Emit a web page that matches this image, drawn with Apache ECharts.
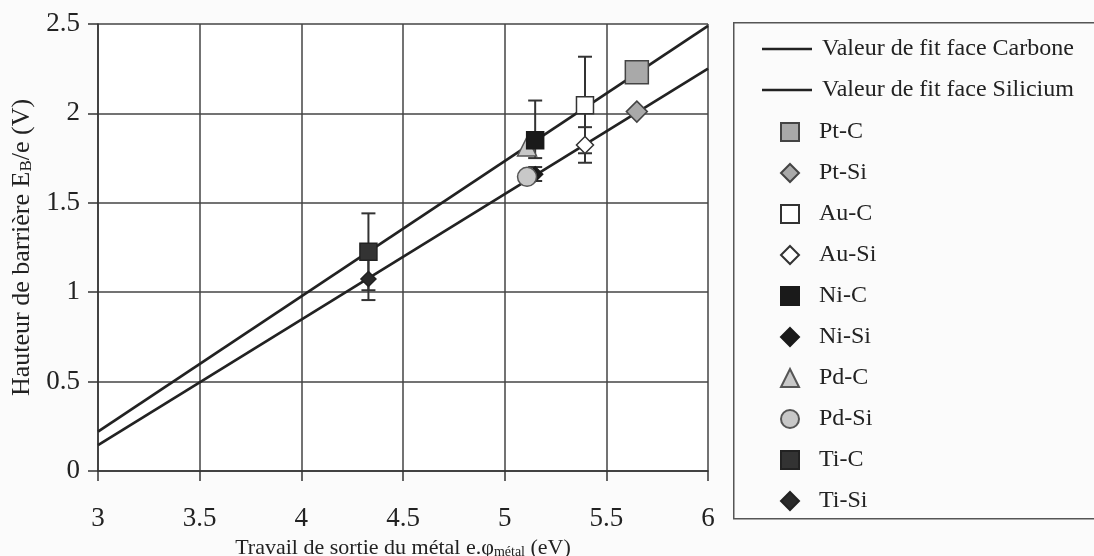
<!DOCTYPE html>
<html>
<head>
<meta charset="utf-8">
<script src="https://cdn.jsdelivr.net/npm/echarts@6/dist/echarts.min.js"></script>
<style>
html,body{margin:0;padding:0;background:#fbfbfb;}
#chart{width:1094px;height:556px;}
</style>
</head>
<body>
<div id="chart"></div>
<script>
// ---- data ----
const xTicks = [3, 3.5, 4, 4.5, 5, 5.5, 6];
const yTicks = [0, 0.5, 1, 1.5, 2, 2.5];
const fitCarbone = [[3, 0.22], [6, 2.49]];
const fitSilicium = [[3, 0.145], [6, 2.25]];
const ptC = [[5.65, 2.23]];
const ptSi = [[5.65, 2.01]];
const auC = [[5.395, 2.045]];
const auSi = [[5.395, 1.823]];
const niC = [[5.15, 1.85]];
const niSi = [[5.15, 1.66]];
const pdC = [[5.11, 1.815]];
const pdSi = [[5.11, 1.645]];
const tiC = [[4.33, 1.226]];
const tiSi = [[4.33, 1.074]];
// error bars: [x, low, high]
const errorBars = [
  [5.395, 1.777, 2.317],
  [5.395, 1.724, 1.923],
  [5.15, 1.75, 2.072],
  [5.15, 1.622, 1.70],
  [4.33, 1.011, 1.441],
  [4.33, 0.956, 1.19]
];

const serif = 'Liberation Serif';
const chart = echarts.init(document.getElementById('chart'));

function sc(name, data, symbol, size, fill, border, z) {
  return {
    name: name, type: 'scatter', data: data, symbol: symbol, symbolSize: size,
    itemStyle: {color: fill, borderColor: border, borderWidth: 1.5, opacity: 1},
    z: z
  };
}

const option = {
  backgroundColor: '#fbfbfb',
  animation: false,
  grid: {left: 98, top: 24, width: 610, height: 447, show: true, backgroundColor: '#ffffff',
    borderWidth: 0, containLabel: false, outerBoundsMode: 'none'},
  xAxis: {
    type: 'value', min: 3, max: 6, interval: 0.5,
    name: '{n|Travail de sortie du métal e.φ}{s|métal}{n| (eV)}',
    nameLocation: 'middle', nameGap: 61,
    nameTextStyle: {rich: {
      n: {fontFamily: serif, fontSize: 22, color: '#222'},
      s: {fontFamily: serif, fontSize: 14, color: '#222', verticalAlign: 'bottom', padding: [8, 0, 0, 0]}
    }},
    axisLine: {onZero: false, lineStyle: {color: '#333', width: 1.5}},
    axisTick: {show: true, inside: false, length: 10, lineStyle: {color: '#333', width: 1.5}},
    axisLabel: {fontFamily: serif, fontSize: 27, color: '#222', margin: 34},
    splitLine: {show: true, lineStyle: {color: '#444', width: 1.5}}
  },
  yAxis: {
    type: 'value', min: 0, max: 2.5, interval: 0.5,
    name: '{n|Hauteur de barrière E}{s|B}{n|/e (V)}',
    nameLocation: 'middle', nameGap: 61, nameRotate: 90,
    nameTextStyle: {rich: {
      n: {fontFamily: serif, fontSize: 26, color: '#222'},
      s: {fontFamily: serif, fontSize: 17, color: '#222', verticalAlign: 'bottom', padding: [9, 0, 0, 0]}
    }},
    axisLine: {onZero: false, lineStyle: {color: '#333', width: 1.5}},
    axisTick: {show: true, inside: false, length: 10, lineStyle: {color: '#333', width: 1.5}},
    axisLabel: {fontFamily: serif, fontSize: 27, color: '#222', margin: 18},
    splitLine: {show: true, lineStyle: {color: '#444', width: 1.5}}
  },
  legend: [
    {
      orient: 'vertical', left: 762, top: 37, padding: 0, itemWidth: 50, itemHeight: 2.5, itemGap: 17,
      icon: 'rect', height: 90,
      textStyle: {fontFamily: serif, fontSize: 24, color: '#222', padding: [0, 0, 0, 5]},
      data: [{name: 'Valeur de fit face Carbone', itemStyle: {color: '#222'}},
             {name: 'Valeur de fit face Silicium', itemStyle: {color: '#222'}}]
    },
    {
      orient: 'vertical', left: 780, top: 120, padding: 0, height: 420, itemWidth: 18, itemHeight: 18, itemGap: 17,
      textStyle: {fontFamily: serif, fontSize: 24, color: '#222', padding: [0, 0, 0, 15]},
      data: ['Pt-C', 'Pt-Si', 'Au-C', 'Au-Si', 'Ni-C', 'Ni-Si', 'Pd-C', 'Pd-Si', 'Ti-C', 'Ti-Si']
    }
  ],
  graphic: [{
    type: 'rect', left: 733, top: 22, shape: {width: 380, height: 496},
    style: {fill: 'rgba(0,0,0,0)', stroke: '#555', lineWidth: 1.5}, z: -1
  }],
  series: [
    {name: 'Valeur de fit face Carbone', type: 'line', data: fitCarbone, symbol: 'none',
      lineStyle: {color: '#222', width: 2.7}, itemStyle: {color: '#222'}, z: 3},
    {name: 'Valeur de fit face Silicium', type: 'line', data: fitSilicium, symbol: 'none',
      lineStyle: {color: '#222', width: 2.7}, itemStyle: {color: '#222'}, z: 3},
    {
      type: 'custom', z: 4, silent: true, data: errorBars,
      renderItem: function (params, api) {
        const x = api.value(0);
        const lo = api.coord([x, api.value(1)]);
        const hi = api.coord([x, api.value(2)]);
        const w = 7;
        const st = {stroke: '#333', lineWidth: 2};
        return {type: 'group', children: [
          {type: 'line', shape: {x1: lo[0], y1: lo[1], x2: hi[0], y2: hi[1]}, style: st},
          {type: 'line', shape: {x1: lo[0] - w, y1: lo[1], x2: lo[0] + w, y2: lo[1]}, style: st},
          {type: 'line', shape: {x1: hi[0] - w, y1: hi[1], x2: hi[0] + w, y2: hi[1]}, style: st}
        ]};
      }
    },
    sc('Pt-C', ptC, 'rect', 23, '#a9a9a9', '#444', 5),
    sc('Pt-Si', ptSi, 'diamond', 21, '#a9a9a9', '#444', 5),
    sc('Au-C', auC, 'rect', 17, '#ffffff', '#333', 5),
    sc('Au-Si', auSi, 'diamond', 17, '#ffffff', '#333', 5),
    sc('Ni-Si', niSi, 'diamond', 15, '#1a1a1a', '#1a1a1a', 5),
    sc('Pd-C', pdC, 'triangle', 19, '#c8c8c8', '#555', 5),
    sc('Ni-C', niC, 'rect', 17, '#1a1a1a', '#1a1a1a', 6),
    sc('Pd-Si', pdSi, 'circle', 19, '#c8c8c8', '#555', 6),
    sc('Ti-C', tiC, 'rect', 17, '#333333', '#222', 5),
    sc('Ti-Si', tiSi, 'diamond', 15, '#2a2a2a', '#222', 5)
  ]
};
chart.setOption(option);
</script>
</body>
</html>
